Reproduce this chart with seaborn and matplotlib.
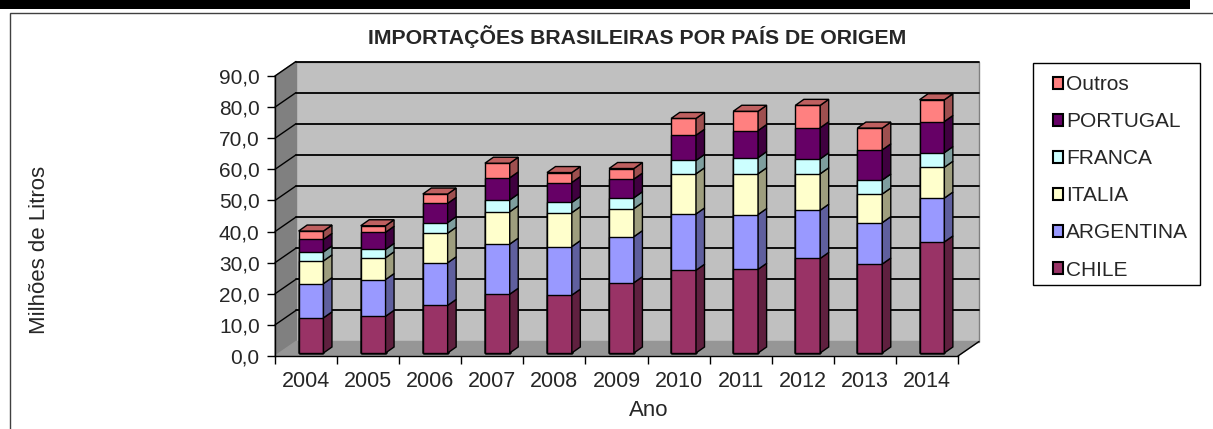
import numpy as np
import pandas as pd
import matplotlib
matplotlib.use('Agg')
import matplotlib.pyplot as plt
import seaborn as sns
from matplotlib.patches import Patch, Rectangle, Polygon
from matplotlib import transforms
from matplotlib import colors as mcolors

# valores (milhoes de litros)
anos = ['2004', '2005', '2006', '2007', '2008', '2009', '2010', '2011', '2012', '2013', '2014']
chile = [11.3, 11.8, 15.3, 18.9, 18.6, 22.6, 26.6, 26.9, 30.4, 28.6, 35.7]
argentina = [11.0, 11.8, 13.7, 16.1, 15.6, 14.8, 18.1, 17.6, 15.5, 13.3, 14.1]
italia = [7.3, 7.0, 9.5, 10.4, 10.9, 9.0, 12.9, 13.1, 11.7, 9.2, 9.9]
franca = [2.9, 2.7, 3.4, 3.8, 3.3, 3.5, 4.3, 5.2, 4.8, 4.5, 4.7]
portugal = [4.0, 5.5, 6.2, 7.1, 6.4, 6.0, 8.1, 8.7, 10.0, 9.7, 10.0]
outros = [2.7, 2.1, 3.0, 4.7, 3.2, 3.4, 5.4, 6.2, 7.2, 7.0, 7.0]

paises = ['CHILE', 'ARGENTINA', 'ITALIA', 'FRANCA', 'PORTUGAL', 'Outros']
cores = ['#993366', '#9999FF', '#FFFFCC', '#CCFFFF', '#660066', '#FF8080']

df = pd.DataFrame({'Ano': anos, 'CHILE': chile, 'ARGENTINA': argentina,
                   'ITALIA': italia, 'FRANCA': franca, 'PORTUGAL': portugal,
                   'Outros': outros})
acum = df[paises].cumsum(axis=1)

sns.set_theme(style='white')
plt.rcParams['font.family'] = ['Liberation Sans', 'DejaVu Sans']

W, H = 1213, 429
fig = plt.figure(figsize=(W / 100, H / 100), dpi=100)


def px(x0, y0, x1, y1):
    return [x0 / W, 1 - y1 / H, (x1 - x0) / W, (y1 - y0) / H]


ax = fig.add_axes(px(275, 76, 958, 356))
ax.patch.set_visible(False)

# barras empilhadas (da maior soma para a menor)
for i in reversed(range(len(paises))):
    sns.barplot(x=df['Ano'], y=acum[paises[i]], color=cores[i], width=0.4,
                edgecolor='black', linewidth=1, saturation=1, ax=ax)

off = transforms.offset_copy(ax.transData, fig=fig, x=5, y=3, units='dots')
for p in ax.patches:
    p.set_transform(off)
    p.set_zorder(3)
    p.set_clip_on(False)

ax.set_xlim(-0.5, 10.5)
ax.set_ylim(0, 90)
ux = 11 / 683
uy = 90 / 280

# efeito 3D das barras
px_, py_ = 8.5 * ux, 6 * uy


def escurecer(c, f=0.62):
    r, g, b = mcolors.to_rgb(c)
    return (r * f, g * f, b * f)


for j in range(len(anos)):
    x1 = j + 0.2
    for i, pais in enumerate(paises):
        bot = 0 if i == 0 else acum.iloc[j, i - 1]
        top = acum.iloc[j, i]
        ax.add_patch(Polygon([(x1, bot), (x1 + px_, bot + py_), (x1 + px_, top + py_), (x1, top)],
                             closed=True, fc=escurecer(cores[i]), ec='black', lw=1,
                             transform=off, zorder=3, clip_on=False))
        if i == len(paises) - 1:
            ax.add_patch(Polygon([(x1 - 0.4, top), (x1, top), (x1 + px_, top + py_), (x1 - 0.4 + px_, top + py_)],
                                 closed=True, fc=escurecer(cores[i], 0.75), ec='black', lw=1,
                                 transform=off, zorder=3, clip_on=False))

# paredes e piso
wx, wy = 21 * ux, 14.5 * uy
ax.add_patch(Rectangle((-0.5 + wx, wy), 11, 90, fc='#C0C0C0', ec='#808080', lw=1,
                       zorder=0, clip_on=False))
ax.add_patch(Polygon([(-0.5, 0), (-0.5 + wx, wy), (-0.5 + wx, 90 + wy), (-0.5, 90)],
                     closed=True, fc='#808080', ec='#808080', lw=1, zorder=0, clip_on=False))
ax.add_patch(Polygon([(-0.5, 0), (10.5, 0), (10.5 + wx, wy), (-0.5 + wx, wy)],
                     closed=True, fc='#969696', ec='#969696', lw=1, zorder=0.5, clip_on=False))
for v in range(10, 91, 10):
    ax.plot([-0.5 + wx, 10.5 + wx], [v + wy, v + wy], color='black', lw=1.3, zorder=1, clip_on=False)
    ax.plot([-0.5, -0.5 + wx], [v, v + wy], color='black', lw=1, zorder=1, clip_on=False)
ax.plot([10.5, 10.5 + wx], [0, wy], color='black', lw=1, zorder=1, clip_on=False)

# eixos
ax.set_xlabel('')
ax.set_ylabel('')
for s in ['top', 'right']:
    ax.spines[s].set_visible(False)
for s in ['left', 'bottom']:
    ax.spines[s].set_color('black')
    ax.spines[s].set_linewidth(1)
    ax.spines[s].set_zorder(2)
ax.set_yticks(range(0, 91, 10))
ax.set_yticklabels([f'{v:.1f}'.replace('.', ',') for v in range(0, 91, 10)])
ax.set_xticks(range(len(anos)))
ax.set_xticklabels(anos)
ax.set_xticks(np.arange(-0.5, 11, 1), minor=True)
ax.tick_params(axis='y', direction='out', length=6, width=1, color='black', pad=5,
               labelsize=15, left=True)
ax.tick_params(axis='x', which='major', length=0, pad=11, labelsize=15.5)
ax.tick_params(axis='x', which='minor', direction='out', length=6, width=1, color='black', bottom=True)
ax.grid(False)

# textos
fig.text(637 / W, 1 - 37 / H, 'IMPORTAÇÕES BRASILEIRAS POR PAÍS DE ORIGEM',
         ha='center', va='center', fontsize=15.3, fontweight='bold')
fig.text(40 / W, 1 - 250 / H, 'Milhões de Litros', rotation=90,
         ha='center', va='center', fontsize=16)
fig.text(649 / W, 1 - 411 / H, 'Ano', ha='center', va='center', fontsize=16)

# legenda
handles = [Patch(fc=cores[i], ec='black', lw=1.5) for i in reversed(range(len(paises)))]
labels = [paises[i] for i in reversed(range(len(paises)))]
fig.legend(handles, labels, loc='upper left', bbox_to_anchor=(1053 / W, 1 - 75 / H),
           frameon=False, fontsize=15, handlelength=0.5, handleheight=0.5,
           handletextpad=0.12, labelspacing=0.87, borderpad=0, borderaxespad=0)
fig.add_artist(Rectangle((1033 / W, 1 - 285 / H), 167 / W, 222 / H, transform=fig.transFigure,
                         fill=False, ec='black', lw=1))

# moldura
fig.add_artist(Rectangle((10 / W, -0.05), 1.1, 1.05 - 13 / H, transform=fig.transFigure,
                         fill=False, ec='#404040', lw=1))
fig.add_artist(Rectangle((0, 1 - 9 / H), 1190 / W, 9 / H, transform=fig.transFigure,
                         fc='black', ec='none'))

fig.savefig('out.png', dpi=100)
